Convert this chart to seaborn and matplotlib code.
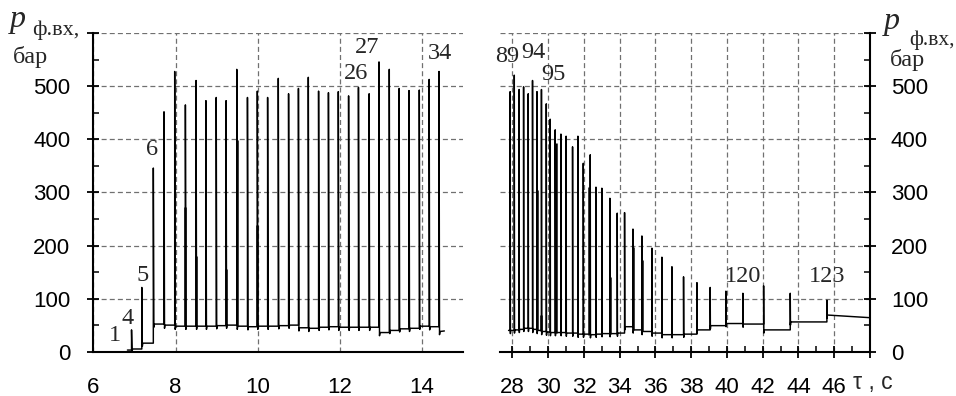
import numpy as np
import pandas as pd
import matplotlib
matplotlib.use("Agg")
import matplotlib.pyplot as plt
import seaborn as sns
from matplotlib.ticker import FixedLocator, MultipleLocator

# ---------------- data ----------------
# left window (6 .. 15 s)
left_start_t = 6.83
left_start_p = 3
left_spike_t = [6.93, 7.18, 7.46, 7.72, 7.98, 8.24, 8.50, 8.74, 8.99, 9.23, 9.49,
                9.75, 9.99, 10.24, 10.50, 10.75, 10.99, 11.23, 11.48, 11.72, 11.96,
                12.21, 12.45, 12.71, 12.95, 13.20, 13.44, 13.68, 13.93, 14.17, 14.41]
left_spike_p = [41, 121, 346, 452, 528, 465, 511, 473, 479, 473, 532,
                479, 491, 479, 515, 486, 496, 517, 491, 488, 490,
                482, 498, 486, 546, 532, 496, 492, 493, 513, 528]
left_base_p = [5, 16, 52, 50, 48, 48, 48, 48, 49, 50, 48,
               47, 48, 48, 49, 50, 45, 44, 46, 47, 46,
               46, 46, 46, 36, 40, 43, 44, 48, 47, 38]
left_end_t = 14.54
left_end_p = 39
left_sub_t = [8.24, 8.50, 9.23, 9.49, 9.99]
left_sub_p = [273, 180, 155, 399, 239]

# right window (27.3 .. 48 s)
right_start_t = 27.78
right_start_p = 40
right_spike_t = [27.87, 28.10, 28.37, 28.62, 28.88, 29.12, 29.37, 29.62, 29.89, 30.11,
                 30.39, 30.71, 31.00, 31.36, 31.66, 31.96, 32.35, 32.67, 33.00, 33.45,
                 33.86, 34.27, 34.74, 35.24, 35.80, 36.36, 36.92, 37.57, 38.32, 39.06,
                 39.94, 40.89, 42.05, 43.54, 45.59]
right_spike_p = [490, 521, 494, 499, 486, 511, 490, 494, 467, 438,
                 418, 410, 406, 386, 406, 355, 371, 310, 308, 289,
                 261, 262, 231, 218, 195, 178, 160, 141, 130, 121,
                 114, 110, 124, 110, 97]
right_base_p = [40, 41, 42, 44, 44, 42, 40, 38, 37, 36,
                36, 36, 35, 35, 33, 33, 32, 33, 34, 34,
                35, 47, 41, 38, 35, 32, 32, 33, 41, 49,
                53, 52, 41, 56, 69]
right_end_t = 48.0
right_end_p = 64
right_sub_t = [29.37, 29.62, 30.45, 32.30, 33.45, 34.74, 35.24]
right_sub_p = [305, 69, 393, 311, 141, 198, 173]

left_labels = ["1", "4", "5", "6", "26", "27", "34"]
left_label_t = [6.53, 6.83, 7.21, 7.44, 12.39, 12.67, 14.44]
left_label_p = [30, 62, 144, 381, 524, 573, 562]
right_labels = ["89", "94", "95", "120", "123"]
right_label_t = [27.69, 29.18, 30.29, 40.88, 45.59]
right_label_p = [556, 563, 523, 141, 141]

y_ticks = [0, 100, 200, 300, 400, 500, 600]
y_ticklabels = ["0", "100", "200", "300", "400", "500", ""]
left_xticks = [6, 8, 10, 12, 14]
right_xticks = [28, 30, 32, 34, 36, 38, 40, 42, 44, 46, 48]
right_xticklabels = ["28", "30", "32", "34", "36", "38", "40", "42", "44", "46", ""]

# ---------------- helpers ----------------
EPS = 0.012
DIP = 6


def build_trace(t0, p0, ts, ps, bs, t_end, p_end):
    xs, ys = [t0], [p0]
    prev = p0
    for t, p, b in zip(ts, ps, bs):
        xs += [t, t, t + EPS, t + 2 * EPS]
        ys += [prev, p, b - DIP, b]
        prev = b
    xs.append(t_end)
    ys.append(p_end)
    return pd.DataFrame({"t": xs, "p": ys, "order": np.arange(len(xs))})


sns.set_theme(style="white")
plt.rcParams["font.family"] = ["Liberation Sans", "DejaVu Sans"]

fig = plt.figure(figsize=(9.56, 3.96), dpi=100)
axL = fig.add_axes([0.0976, 0.112, 0.387, 0.804])
axR = fig.add_axes([0.523, 0.112, 0.387, 0.804])

grid_kw = dict(color="#707070", lw=0.9, ls=(0, (4, 2.5)))
TICK_FS = 16
SERIF = ["Liberation Serif", "DejaVu Serif"]

for ax, (t0, p0, ts, ps, bs, te, pe, st, sp) in [
    (axL, (left_start_t, left_start_p, left_spike_t, left_spike_p, left_base_p,
           left_end_t, left_end_p, left_sub_t, left_sub_p)),
    (axR, (right_start_t, right_start_p, right_spike_t, right_spike_p, right_base_p,
           right_end_t, right_end_p, right_sub_t, right_sub_p)),
]:
    df = build_trace(t0, p0, ts, ps, bs, te, pe)
    sns.lineplot(data=df, x="t", y="p", sort=False, estimator=None,
                 color="black", lw=1.05, ax=ax, zorder=3)
    ts_arr = np.asarray(ts)
    base_for_sub = [bs[int(np.argmin(np.abs(ts_arr - s)))] for s in st]
    ax.vlines(st, base_for_sub, sp, color="black", lw=1.8, zorder=3)
    ax.set_ylim(0, 600)
    ax.set_xlabel("")
    ax.set_ylabel("")
    ax.yaxis.set_major_locator(FixedLocator(y_ticks))
    ax.yaxis.set_minor_locator(MultipleLocator(50))
    ax.set_yticklabels(y_ticklabels)
    ax.grid(True, which="major", **grid_kw)
    ax.set_axisbelow(True)
    for s in ax.spines.values():
        s.set_linewidth(1.5)
        s.set_color("black")
    ax.spines["top"].set_visible(False)
    ax.tick_params(which="major", direction="inout", length=8, width=1.3,
                   colors="black", labelsize=TICK_FS)
    ax.tick_params(which="minor", direction="in", length=4, width=1.1,
                   colors="black")
    ax.tick_params(axis="x", which="major", pad=14)

# left panel
axL.set_xlim(6, 15)
axL.xaxis.set_major_locator(FixedLocator(left_xticks))
axL.xaxis.set_minor_locator(FixedLocator([7, 9, 11, 13, 15]))
axL.spines["right"].set_visible(False)
axL.tick_params(axis="y", which="major", pad=12.5)
axL.tick_params(axis="y", which="both", left=True, right=False)

# right panel
axR.set_xlim(27.3, 48)
axR.xaxis.set_major_locator(FixedLocator(right_xticks))
axR.set_xticklabels(right_xticklabels)
axR.xaxis.set_minor_locator(MultipleLocator(1))
axR.spines["left"].set_visible(False)
axR.yaxis.tick_right()
axR.tick_params(axis="y", which="both", left=False, right=True)
axR.tick_params(axis="y", which="major", pad=11)
axR.tick_params(axis="x", which="both", bottom=True)

for lab in axL.get_xticklabels() + axL.get_yticklabels() + axR.get_xticklabels() + axR.get_yticklabels():
    lab.set_fontsize(TICK_FS)

# spike numbers
ANN_FS = 17.5
for txt, t, p in zip(left_labels, left_label_t, left_label_p):
    axL.text(t, p, txt, ha="center", va="center", fontsize=ANN_FS, family=SERIF, zorder=5)
for txt, t, p in zip(right_labels, right_label_t, right_label_p):
    axR.text(t, p, txt, ha="center", va="center", fontsize=ANN_FS, family=SERIF, zorder=5)

# axis titles
H, W = 396, 956
def ft(px, py, s, **kw):
    fig.text(px / W, 1 - py / H, s, **kw)

ft(18, 27, "p", ha="center", va="baseline", fontsize=23, family=SERIF, style="italic")
ft(32, 35, "ф.вх,", ha="left", va="baseline", fontsize=16, family=SERIF)
ft(13, 63, "бар", ha="left", va="baseline", fontsize=17.5, family=SERIF)
ft(892, 29, "p", ha="center", va="baseline", fontsize=23, family=SERIF, style="italic")
ft(909, 45, "ф.вх,", ha="left", va="baseline", fontsize=15.5, family=SERIF)
ft(890, 66, "бар", ha="left", va="baseline", fontsize=17.5, family=SERIF)
ft(853, 389, "τ , с", ha="left", va="baseline", fontsize=16.5)

fig.savefig("out.png", dpi=100)
